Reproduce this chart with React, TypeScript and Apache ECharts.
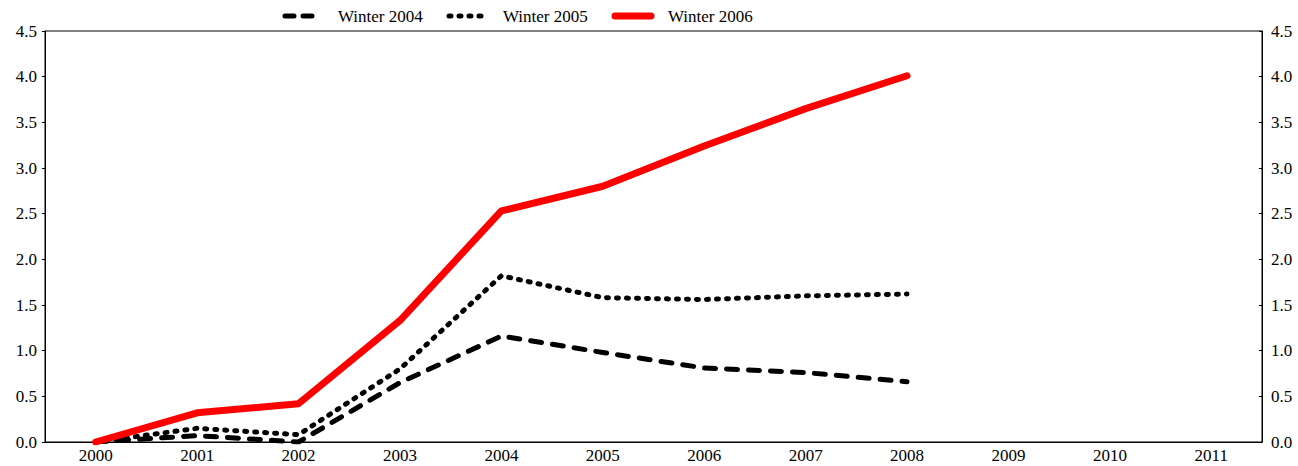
import React, { useEffect, useRef } from "react";
import * as echarts from "echarts";

const years = ["2000", "2001", "2002", "2003", "2004", "2005", "2006", "2007", "2008", "2009", "2010", "2011"];
const winter2004 = [0, 0.07, 0.0, 0.65, 1.16, 0.98, 0.81, 0.76, 0.66];
const winter2005 = [0, 0.15, 0.08, 0.8, 1.82, 1.58, 1.56, 1.6, 1.62];
const winter2006 = [0, 0.32, 0.42, 1.33, 2.53, 2.8, 3.24, 3.65, 4.01];
const seriesNames = ["Winter 2004", "Winter 2005", "Winter 2006"];

const FONT = "'Liberation Serif', 'Times New Roman', serif";
const FONT_SIZE = 17;

const dash2004 = [9, 9];
const dash2005 = [2, 8];

const richFont = { t: { fontFamily: FONT, fontSize: FONT_SIZE, color: "#000" } };

export default function App() {
  const ref = useRef<HTMLDivElement>(null);
  useEffect(() => {
    document.body.style.margin = "0";
    const chart = echarts.init(ref.current!, null, { renderer: "svg" });
    const labelBase = {
      color: "#000",
      fontFamily: FONT,
      fontSize: FONT_SIZE,
      formatter: (v: number) => `{t|${v.toFixed(1)}}`,
      rich: richFont,
    };
    const yAxisBase = {
      type: "value" as const,
      min: 0,
      max: 4.5,
      interval: 0.5,
      axisLine: { show: true, lineStyle: { color: "#000", width: 1 } },
      splitLine: { show: false },
    };
    const legendY = 16;
    const legendItem = (x1: number, x2: number, tx: number, name: string, style: any) => [
      {
        type: "line",
        shape: { x1, y1: legendY, x2, y2: legendY },
        style: { stroke: "#000", lineWidth: 5, lineCap: "round", ...style },
      },
      {
        type: "text",
        x: tx,
        y: legendY,
        style: {
          text: name,
          fill: "#000",
          font: `${FONT_SIZE}px ${FONT}`,
          verticalAlign: "middle",
          align: "left",
        },
      },
    ];
    chart.setOption({
      animation: false,
      textStyle: { fontFamily: FONT },
      graphic: [
        ...legendItem(285, 316, 338, seriesNames[0], { lineDash: dash2004 }),
        ...legendItem(449, 482, 503, seriesNames[1], { lineDash: dash2005 }),
        ...legendItem(615, 651, 668, seriesNames[2], { stroke: "#ff0000", lineWidth: 7 }),
      ],
      grid: {
        left: 45,
        right: 36,
        top: 31,
        bottom: 24,
        show: true,
        borderColor: "#000",
        borderWidth: 1,
      },
      xAxis: {
        type: "category",
        data: years,
        boundaryGap: true,
        axisLine: { lineStyle: { color: "#000", width: 1 } },
        axisTick: { inside: true, length: 4, lineStyle: { color: "#000" } },
        axisLabel: {
          color: "#000",
          fontFamily: FONT,
          fontSize: FONT_SIZE,
          margin: 5,
          formatter: (v: string) => `{t|${v}}`,
          rich: richFont,
        },
      },
      yAxis: [
        {
          ...yAxisBase,
          position: "left",
          axisTick: { show: true, inside: false, length: 3, lineStyle: { color: "#000" } },
          axisLabel: { ...labelBase, margin: 8 },
        },
        {
          ...yAxisBase,
          position: "right",
          axisTick: { show: true, inside: true, length: 3, lineStyle: { color: "#000" } },
          axisLabel: { ...labelBase, margin: 9 },
        },
      ],
      series: [
        {
          name: seriesNames[0],
          type: "line",
          data: winter2004,
          symbol: "none",
          lineStyle: { color: "#000", width: 5, type: [11, 11], cap: "round", join: "round" },
          itemStyle: { color: "#000" },
        },
        {
          name: seriesNames[1],
          type: "line",
          data: winter2005,
          symbol: "none",
          lineStyle: { color: "#000", width: 5, type: [2, 8], cap: "round", join: "round" },
          itemStyle: { color: "#000" },
        },
        {
          name: seriesNames[2],
          type: "line",
          data: winter2006,
          symbol: "none",
          lineStyle: { color: "#ff0000", width: 7, cap: "round", join: "round" },
          itemStyle: { color: "#ff0000" },
        },
      ],
    });
    return () => chart.dispose();
  }, []);
  return <div ref={ref} style={{ width: 1298, height: 466 }} />;
}
